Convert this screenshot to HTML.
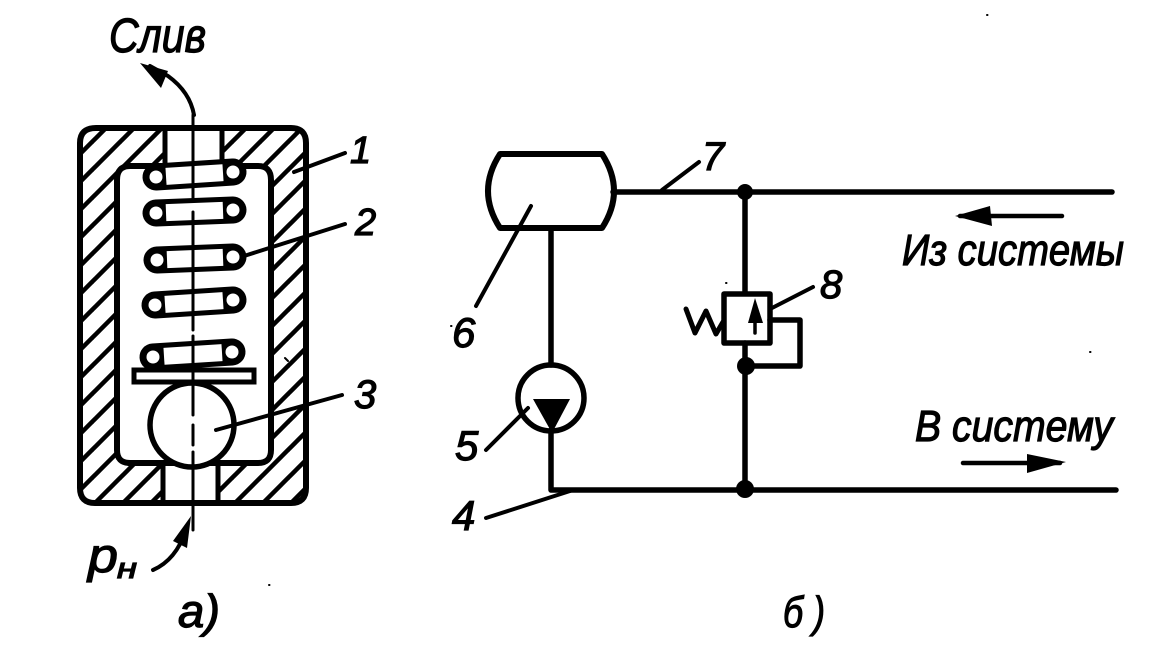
<!DOCTYPE html>
<html><head><meta charset="utf-8"><style>
html,body{margin:0;padding:0;background:#fff;width:1156px;height:656px;overflow:hidden}
svg{display:block}
text{font-family:"Liberation Sans",sans-serif;font-style:italic;fill:#000;stroke:#000;stroke-width:1.2px}
.l{fill:none;stroke:#000;stroke-linecap:round;stroke-linejoin:round}
</style></head><body>
<svg width="1156" height="656" viewBox="0 0 1156 656" xmlns="http://www.w3.org/2000/svg">
<rect width="1156" height="656" fill="#fff"/>
<defs>
<pattern id="p" patternUnits="userSpaceOnUse" x="10" y="0" width="28" height="28">
<path d="M-4,32L32,-4" stroke="#000" stroke-width="4.5" fill="none"/>
<path d="M-4,4L4,-4M24,32L32,24" stroke="#000" stroke-width="4.5" fill="none"/>
</pattern>
</defs>
<!-- hatching -->
<path fill="url(#p)" fill-rule="evenodd" d="M96,128H291Q306,128 306,143V488Q306,503 291,503H95Q80,503 80,488V143Q80,128 96,128ZM130,166Q117,166 117,180V450Q117,463 130,463H258Q271,463 271,450V180Q271,166 258,166Z"/>
<!-- ports -->
<rect x="166" y="131" width="56" height="34" fill="#fff"/>
<rect x="163" y="464" width="54" height="37" fill="#fff"/>
<path class="l" stroke-width="5" d="M165,130V165M222,130V165M163,465V501M218,465V501"/>
<!-- housing -->
<path class="l" stroke-width="6" d="M96,128H291Q306,128 306,143V488Q306,503 291,503H95Q80,503 80,488V143Q80,128 96,128Z"/>
<path class="l" stroke-width="6" d="M130,166H258Q271,166 271,180V450Q271,463 258,463H130Q117,463 117,450V180Q117,166 130,166Z"/>
<!-- coils -->
<g stroke-linecap="round">
<path stroke="#000" stroke-width="27" d="M156,177L233,172"/>
<path stroke="#fff" stroke-width="17" stroke-linecap="butt" d="M166,176.4L223,172.7"/>
<circle cx="156" cy="177" r="6.5" fill="#fff"/><circle cx="233" cy="172" r="6.5" fill="#fff"/>
<path stroke="#000" stroke-width="27" d="M156,213L233,210"/>
<path stroke="#fff" stroke-width="17" stroke-linecap="butt" d="M166,212.6L223,210.4"/>
<circle cx="156" cy="213" r="6.5" fill="#fff"/><circle cx="233" cy="210" r="6.5" fill="#fff"/>
<path stroke="#000" stroke-width="27" d="M157,260L233,257"/>
<path stroke="#fff" stroke-width="17" stroke-linecap="butt" d="M167,259.6L223,257.4"/>
<circle cx="157" cy="260" r="6.5" fill="#fff"/><circle cx="233" cy="257" r="6.5" fill="#fff"/>
<path stroke="#000" stroke-width="27" d="M155,305L233,300"/>
<path stroke="#fff" stroke-width="17" stroke-linecap="butt" d="M165,304.4L223,300.6"/>
<circle cx="155" cy="305" r="6.5" fill="#fff"/><circle cx="233" cy="300" r="6.5" fill="#fff"/>
<path stroke="#000" stroke-width="27" d="M153,357L232,352"/>
<path stroke="#fff" stroke-width="17" stroke-linecap="butt" d="M164,356.3L222,352.6"/>
<circle cx="153" cy="357" r="6.5" fill="#fff"/><circle cx="232" cy="352" r="6.5" fill="#fff"/>
</g>
<!-- ball, plate -->
<circle cx="192" cy="425" r="42" fill="#fff" stroke="#000" stroke-width="5.5"/>
<rect x="134" y="370" width="120" height="12" fill="#fff" stroke="#000" stroke-width="5"/>
<!-- centre line -->
<path class="l" stroke-width="3" d="M193,115V200M193,212V330M193,336V415M193,425V445M193,452V530"/>
<!-- arrows a -->
<path class="l" stroke-width="4" d="M194,115Q190,92 168,76L150,66"/>
<path d="M140,63L168,71L161,88Z" fill="#000"/>
<path class="l" stroke-width="4" d="M153,570Q176,560 186,530"/>
<path d="M191,516L187,548L173,541Z" fill="#000"/>
<!-- leaders a -->
<path class="l" stroke-width="4" d="M294,172L345,153M244,256L345,224M216,430L342,395"/>
<!-- tank -->
<path class="l" stroke-width="6" d="M500,154H602Q626,191 602,228H500Q476,191 500,154Z"/>
<!-- lines b -->
<g class="l" stroke-width="5.5">
<path d="M613,192H1112M745,192V293M745,343V489M551,228V365M551,430V490H1116" />
<rect x="724" y="294" width="46" height="49"/>
<path d="M770,320H800V366H746"/>
<circle cx="551" cy="398" r="33"/>
</g>
<path d="M533,399H570L552,433Z" fill="#000"/>
<circle cx="745" cy="192" r="8" fill="#000"/>
<circle cx="746" cy="366" r="9" fill="#000"/>
<circle cx="745" cy="489" r="9" fill="#000"/>
<!-- valve arrow and spring -->
<path class="l" stroke-width="3.5" d="M755,333V310"/>
<path d="M755,298L763,323H748Z" fill="#000"/>
<path class="l" stroke-width="5" d="M686,309L695,333L706,311L716,334L723,322"/>
<!-- leaders b -->
<path class="l" stroke-width="4" d="M662,190L699,162M476,306L531,206M772,308L813,287M486,450L528,408M486,518L570,491"/>
<!-- flow arrows -->
<path class="l" stroke-width="4.5" d="M960,216H1062M963,463H1060"/>
<path d="M955,216L990,206L992,226Z" fill="#000"/>
<path d="M1066,462L1027,454L1027,473Z" fill="#000"/>
<!-- labels -->
<text x="109" y="52" font-size="48" textLength="97" lengthAdjust="spacingAndGlyphs">Слив</text>
<text x="350" y="163" font-size="38">1</text>
<text x="355" y="235" font-size="38">2</text>
<text x="354" y="408" font-size="40">3</text>
<text x="88" y="572" font-size="48" textLength="30" lengthAdjust="spacingAndGlyphs">р</text>
<text x="117" y="578" font-size="29" textLength="20" lengthAdjust="spacingAndGlyphs">н</text>
<text x="178" y="627" font-size="46" textLength="42" lengthAdjust="spacingAndGlyphs">а)</text>
<text x="452" y="347" font-size="42">6</text>
<text x="702" y="170" font-size="40">7</text>
<text x="820" y="298" font-size="40">8</text>
<text x="455" y="460" font-size="42">5</text>
<text x="452" y="530" font-size="42">4</text>
<text x="783" y="627" font-size="44" textLength="42" lengthAdjust="spacingAndGlyphs">б )</text>
<text x="902" y="265" font-size="44" textLength="222" lengthAdjust="spacingAndGlyphs">Из системы</text>
<text x="915" y="441" font-size="44" textLength="198" lengthAdjust="spacingAndGlyphs">В систему</text>
<!-- specks -->
<path class="l" stroke-width="2" d="M269,585h.5M987,15h.5M1090,352h.5M451,326h.5M285,358l3,3M726,283h.5"/>
</svg>
</body></html>
